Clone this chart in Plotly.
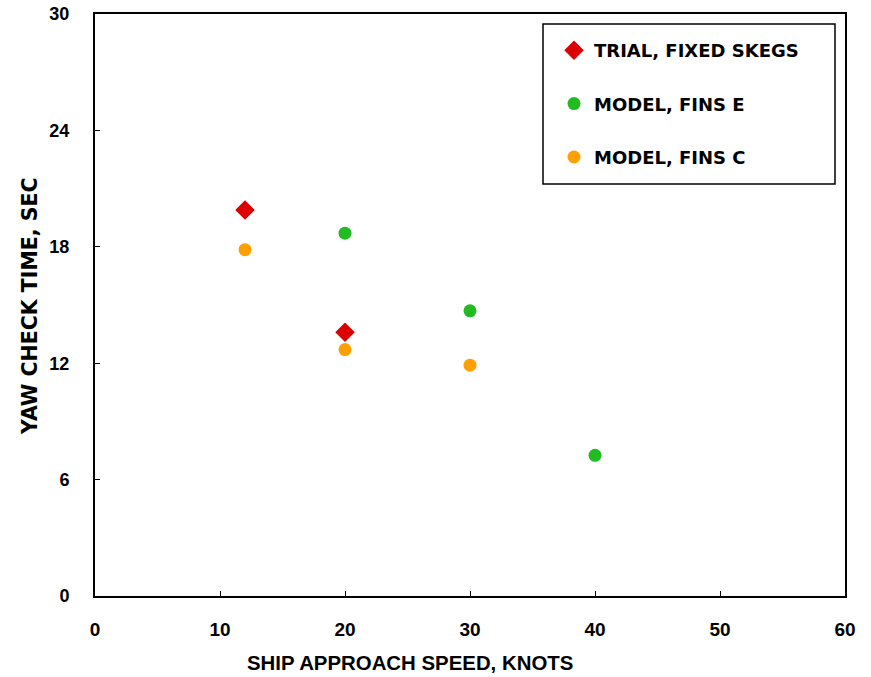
import plotly.graph_objects as go

trial_x = [12, 20]
trial_y = [19.9, 13.6]
fins_e_x = [20, 30, 40]
fins_e_y = [18.7, 14.7, 7.25]
fins_c_x = [12, 20, 30]
fins_c_y = [17.85, 12.7, 11.9]

x_ticks = [0, 10, 20, 30, 40, 50, 60]
y_ticks = [0, 6, 12, 18, 24, 30]

FONT = "Liberation Sans"
W, H = 871, 677
L, R, T, B = 95, 26, 14, 81
PW, PH = W - L - R, H - T - B


def px(x):
    return (x - L) / PW


def py(y):
    return (H - B - y) / PH


fig = go.Figure()
fig.add_trace(go.Scatter(x=trial_x, y=trial_y, mode="markers", name="<b>TRIAL, FIXED SKEGS</b>",
                         legendgroup="a",
                         marker=dict(symbol="diamond", size=15, color="#DD0000")))
fig.add_trace(go.Scatter(x=fins_e_x, y=fins_e_y, mode="markers", name="<b>MODEL, FINS E</b>",
                         legendgroup="b",
                         marker=dict(symbol="circle", size=13, color="#22BB22")))
fig.add_trace(go.Scatter(x=fins_c_x, y=fins_c_y, mode="markers", name="<b>MODEL, FINS C</b>",
                         legendgroup="c",
                         marker=dict(symbol="circle", size=13, color="#FF9F00")))

fig.update_layout(
    width=W, height=H,
    margin=dict(l=L, r=R, t=T, b=B, autoexpand=False),
    paper_bgcolor="white", plot_bgcolor="white",
    font=dict(family=FONT, size=17, color="black"),
    showlegend=True,
    legend=dict(x=px(554), y=py(32), xanchor="left", yanchor="top",
                borderwidth=0, bgcolor="rgba(0,0,0,0)",
                font=dict(family="DejaVu Sans", size=18, color="black"),
                tracegroupgap=27, itemwidth=30),
    xaxis=dict(range=[0, 60], tickvals=x_ticks, ticktext=[f"<b>{v}</b>" for v in x_ticks],
               tickfont=dict(family=FONT, size=19), automargin=False,
               showgrid=False, zeroline=False, showline=True, linecolor="black", linewidth=2,
               mirror=True, ticks="inside", ticklen=5, tickcolor="black", tickwidth=1,
               ticklabelstandoff=15),
    yaxis=dict(range=[0, 30], tickvals=y_ticks, ticktext=[f"<b>{v}</b>" for v in y_ticks],
               tickfont=dict(family=FONT, size=18), automargin=False,
               showgrid=False, zeroline=False, showline=True, linecolor="black", linewidth=2,
               mirror=True, ticks="inside", ticklen=5, tickcolor="black", tickwidth=1,
               ticklabelstandoff=20),
)

# legend frame
fig.add_shape(type="rect", xref="paper", yref="paper",
              x0=px(543), x1=px(835), y0=py(184), y1=py(24),
              line=dict(color="black", width=1.5), fillcolor="rgba(0,0,0,0)", layer="below")

fig.add_annotation(text="<b>SHIP APPROACH SPEED, KNOTS</b>", xref="paper", yref="paper",
                   x=px(410), y=py(663), xanchor="center", yanchor="middle",
                   showarrow=False, font=dict(family=FONT, size=20.4, color="black"))
fig.add_annotation(text="<b>YAW CHECK TIME, SEC</b>", xref="paper", yref="paper",
                   x=px(30), y=py(306), xanchor="center", yanchor="middle", textangle=-90,
                   showarrow=False, font=dict(family="DejaVu Sans", size=20.5, color="black"))

fig.write_html("out.html")
